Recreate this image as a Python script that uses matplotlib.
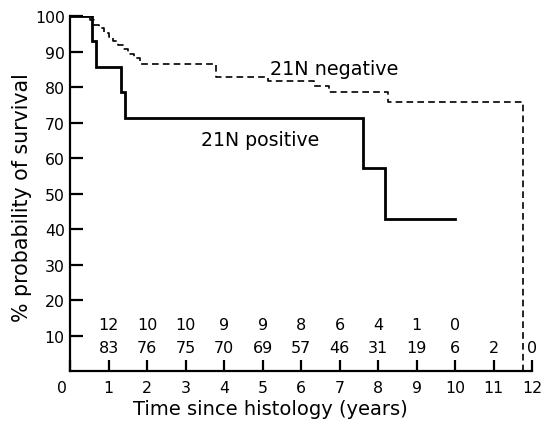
import matplotlib
matplotlib.use("Agg")
import matplotlib.pyplot as plt
import matplotlib.transforms as mtransforms

plt.rcParams['font.family'] = ['DejaVu Sans']

# 21N positive (solid)
pos_t = [0.0, 0.56, 0.67, 1.32, 1.42, 7.6, 8.17, 10.0]
pos_s = [100.0, 92.9, 85.7, 78.6, 71.4, 57.1, 42.9, 42.9]

# 21N negative (dashed)
neg_t = [0.0, 0.5, 0.62, 0.75, 0.88, 1.0, 1.12, 1.25, 1.38, 1.5, 1.65, 1.8,
         3.78, 5.13, 6.33, 6.72, 8.25, 11.75, 11.75]
neg_s = [100.0, 98.8, 97.6, 96.5, 95.3, 94.1, 92.9, 91.8, 90.6, 89.4, 88.2, 86.5,
         82.8, 81.7, 80.3, 78.5, 75.8, 75.8, 0.0]

# numbers at risk
risk_pos_x = [1, 2, 3, 4, 5, 6, 7, 8, 9, 10]
risk_pos = ["12", "10", "10", "9", "9", "8", "6", "4", "1", "0"]
risk_neg_x = [1, 2, 3, 4, 5, 6, 7, 8, 9, 10, 11, 12]
risk_neg = ["83", "76", "75", "70", "69", "57", "46", "31", "19", "6", "2", "0"]

x_ticks = list(range(0, 13))
y_ticks = list(range(10, 101, 10))

fig = plt.figure(figsize=(5.44, 4.31), dpi=100)
ax = fig.add_axes([70.3 / 544, 1 - 372.3 / 431, 462 / 544, 355.3 / 431])

ax.step(pos_t, pos_s, where='post', color='black', lw=2.0, solid_joinstyle='miter')
ax.step(neg_t, neg_s, where='post', color='black', lw=1.2, linestyle=(0, (4, 2.5)))

ax.set_xlim(0, 12)
ax.set_ylim(0, 100)
for s in ['top', 'right']:
    ax.spines[s].set_visible(False)
for s in ['left', 'bottom']:
    ax.spines[s].set_linewidth(1.6)

ax.set_xticks(x_ticks)
ax.set_yticks(y_ticks)
ax.tick_params(axis='x', direction='in', length=8, width=1.6, labelsize=11.3, pad=6)
ax.tick_params(axis='y', direction='in', length=9, width=1.6, labelsize=11.3, pad=4)
# the "0" label sits left of the origin
lab0 = ax.get_xticklabels()[0]
lab0.set_transform(lab0.get_transform() + mtransforms.ScaledTranslation(-8 / 100, 0, fig.dpi_scale_trans))

fig.text(270 / 544, 1 - 410 / 431, "Time since histology (years)", fontsize=14,
         ha='center', va='center')
fig.text(22 / 544, 1 - 198 / 431, "% probability of survival", fontsize=14.8,
         ha='center', va='center', rotation=90)

ax.text(5.2, 85.3, "21N negative", fontsize=13.8, ha='left', va='center')
ax.text(3.4, 65.3, "21N positive", fontsize=13.6, ha='left', va='center')

for x, t in zip(risk_pos_x, risk_pos):
    ax.text(x, 13.3, t, fontsize=11.5, ha='center', va='center')
for x, t in zip(risk_neg_x, risk_neg):
    ax.text(x, 6.7, t, fontsize=11.5, ha='center', va='center')

fig.savefig("out.png", dpi=100)
